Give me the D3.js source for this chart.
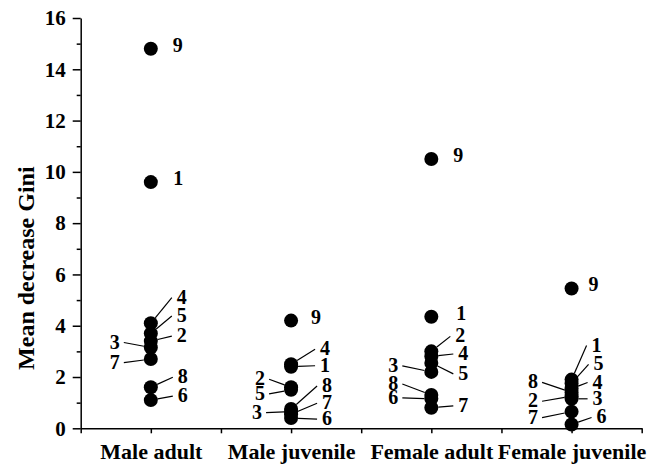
<!DOCTYPE html>
<html>
<head>
<meta charset="utf-8">
<script src="https://cdn.jsdelivr.net/npm/d3@7"></script>
<style>
  body { margin: 0; background: #fff; }
  svg { display: block; font-family: "Times New Roman", "Liberation Serif", serif; font-weight: bold; }
</style>
</head>
<body>
<div id="chart"></div>
<script>
// categories on the x axis and the feature numbers 1..9
const categories = ["Male adult", "Male juvenile", "Female adult", "Female juvenile"]
const features = [1, 2, 3, 4, 5, 6, 7, 8, 9]

// mean decrease Gini, in feature order 1..9
const maleAdult      = [9.6, 3.4, 3.15, 4.1, 3.7, 1.1, 2.7, 1.6, 14.8]
const maleJuvenile   = [2.4, 1.6, 0.65, 2.5, 1.5, 0.4, 0.55, 0.75, 4.2]
const femaleAdult    = [4.35, 3.0, 2.2, 2.8, 2.55, 1.15, 0.8, 1.3, 10.5]
const femaleJuvenile = [1.9, 1.25, 1.15, 1.55, 1.75, 0.15, 0.65, 1.4, 5.45]

const yTicks = [0, 2, 4, 6, 8, 10, 12, 14, 16]
const yMinorTicks = [1, 3, 5, 7, 9, 11, 13, 15]

// where each number label sits relative to its dot: [dx, dy, leader line?]
const labelOffsets = [
  [[27.5, -4, 0], [31, -6, 1], [-36, -6, 1], [31, -26.5, 1], [31, -18.4, 1], [32, -5, 1], [-36, 2.6, 1], [32, -11, 1], [27, -4, 0]],
  [[34, -2, 1], [-31, -9, 1], [-34, 0, 1], [34, -16, 1], [-31, 3, 1], [36, 0, 1], [36, -12, 1], [36, -24, 1], [25, -4, 0]],
  [[30, -4, 0], [29, -16, 1], [-38, -7, 1], [32, -3.5, 1], [32, 10, 1], [-38, -2, 1], [32, -3, 1], [-38, -12, 1], [27, -4, 0]],
  [[25, -35, 1], [-38.5, 4, 1], [26, -1, 1], [26, -7, 1], [27, -20, 1], [30, -8, 1], [-38.5, 5, 1], [-38.5, -11, 1], [22, -5, 0]]
]

const series = [maleAdult, maleJuvenile, femaleAdult, femaleJuvenile]

const width = 649, height = 468
const r = 7

const x = d3.scaleLinear().domain([0.5, 4.5]).range([80.7, 641.7])
const y = d3.scaleLinear().domain([0, 16]).range([428.3, 18])

const svg = d3.select("#chart").append("svg")
  .attr("width", width)
  .attr("height", height)

// y axis, major + minor ticks
svg.append("g")
  .attr("transform", `translate(${x(0.5)},0)`)
  .call(d3.axisLeft(y).tickValues(yMinorTicks).tickSize(4).tickSizeOuter(0).tickFormat(""))
  .call(g => g.select(".domain").remove())
  .call(g => g.selectAll("line").attr("stroke-width", 1.5))

svg.append("g")
  .attr("transform", `translate(${x(0.5)},0)`)
  .call(d3.axisLeft(y).tickValues(yTicks).tickSize(8).tickPadding(7).tickSizeOuter(0))
  .attr("font-family", null)
  .attr("font-size", 21)
  .call(g => g.select(".domain").attr("stroke-width", 1.5))
  .call(g => g.selectAll("line").attr("stroke-width", 1.5))
  .call(g => g.selectAll("text").attr("fill", "#000"))

// x axis: ticks at categories and between them
const xTickVals = d3.range(0.5, 4.51, 0.5)
svg.append("g")
  .attr("transform", `translate(0,${y(0)})`)
  .call(d3.axisBottom(x).tickValues(xTickVals).tickSize(5).tickPadding(10).tickSizeOuter(0)
    .tickFormat(d => Number.isInteger(d) ? categories[d - 1] : ""))
  .attr("font-family", null)
  .attr("font-size", 22)
  .call(g => g.select(".domain").attr("stroke-width", 1.5))
  .call(g => g.selectAll("line").attr("stroke-width", 1.5))
  .call(g => g.selectAll("text").attr("fill", "#000"))

// y title
svg.append("text")
  .attr("transform", `translate(26,${(y(0) + y(16)) / 2 + 45}) rotate(-90)`)
  .attr("text-anchor", "middle")
  .attr("dy", "0.35em")
  .attr("font-size", 24)
  .text("Mean decrease Gini")

// points, leader lines and number labels
const pts = []
series.forEach((vals, ci) => {
  vals.forEach((v, fi) => {
    const off = labelOffsets[ci][fi]
    pts.push({ cat: ci + 1, feat: features[fi], value: v, dx: off[0], dy: off[1], leader: off[2] })
  })
})

const marks = svg.append("g")

marks.selectAll("circle")
  .data(pts)
  .join("circle")
    .attr("cx", d => x(d.cat))
    .attr("cy", d => y(d.value))
    .attr("r", r)
    .attr("fill", "#000")

marks.selectAll("line.leader")
  .data(pts.filter(d => d.leader))
  .join("line")
    .attr("class", "leader")
    .each(function(d) {
      const px = x(d.cat), py = y(d.value)
      const ex = px + d.dx + (d.dx > 0 ? -10 : 9)
      const ey = py + d.dy + 1
      const len = Math.hypot(ex - px, ey - py)
      d3.select(this)
        .attr("x1", px + (ex - px) / len * r)
        .attr("y1", py + (ey - py) / len * r)
        .attr("x2", ex)
        .attr("y2", ey)
    })
    .attr("stroke", "#000")
    .attr("stroke-width", 1.2)

marks.selectAll("text.num")
  .data(pts)
  .join("text")
    .attr("class", "num")
    .attr("x", d => x(d.cat) + d.dx)
    .attr("y", d => y(d.value) + d.dy)
    .attr("dy", "0.35em")
    .attr("text-anchor", "middle")
    .attr("font-size", 20)
    .text(d => d.feat)
</script>
</body>
</html>
